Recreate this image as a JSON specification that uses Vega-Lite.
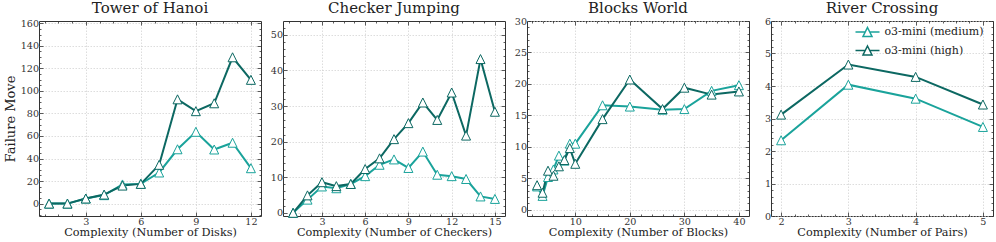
{
  "$schema": "https://vega.github.io/schema/vega-lite/v6.json",
  "padding": {"left": 3, "right": 2, "top": 0, "bottom": 0},
  "bounds": "flush",
  "spacing": 22,
  "datasets": {
    "hanoi": [
      {"model": "o3-mini (medium)", "n": 1, "v": 0}, {"model": "o3-mini (medium)", "n": 2, "v": 0},
      {"model": "o3-mini (medium)", "n": 3, "v": 4.5}, {"model": "o3-mini (medium)", "n": 4, "v": 7.5},
      {"model": "o3-mini (medium)", "n": 5, "v": 17}, {"model": "o3-mini (medium)", "n": 6, "v": 17.5},
      {"model": "o3-mini (medium)", "n": 7, "v": 27.6}, {"model": "o3-mini (medium)", "n": 8, "v": 48.2},
      {"model": "o3-mini (medium)", "n": 9, "v": 63.7}, {"model": "o3-mini (medium)", "n": 10, "v": 48},
      {"model": "o3-mini (medium)", "n": 11, "v": 54}, {"model": "o3-mini (medium)", "n": 12, "v": 31.4},
      {"model": "o3-mini (high)", "n": 1, "v": 0}, {"model": "o3-mini (high)", "n": 2, "v": 0},
      {"model": "o3-mini (high)", "n": 3, "v": 4.5}, {"model": "o3-mini (high)", "n": 4, "v": 8},
      {"model": "o3-mini (high)", "n": 5, "v": 16}, {"model": "o3-mini (high)", "n": 6, "v": 17.5},
      {"model": "o3-mini (high)", "n": 7, "v": 34.4}, {"model": "o3-mini (high)", "n": 8, "v": 92.5},
      {"model": "o3-mini (high)", "n": 9, "v": 82}, {"model": "o3-mini (high)", "n": 10, "v": 89},
      {"model": "o3-mini (high)", "n": 11, "v": 129.8}, {"model": "o3-mini (high)", "n": 12, "v": 109.8}
    ],
    "checker": [
      {"model": "o3-mini (medium)", "n": 1, "v": 0}, {"model": "o3-mini (medium)", "n": 2, "v": 3.7},
      {"model": "o3-mini (medium)", "n": 3, "v": 7.4}, {"model": "o3-mini (medium)", "n": 4, "v": 6.9},
      {"model": "o3-mini (medium)", "n": 5, "v": 8.1}, {"model": "o3-mini (medium)", "n": 6, "v": 10.3},
      {"model": "o3-mini (medium)", "n": 7, "v": 13.5}, {"model": "o3-mini (medium)", "n": 8, "v": 15.0},
      {"model": "o3-mini (medium)", "n": 9, "v": 12.6}, {"model": "o3-mini (medium)", "n": 10, "v": 17.2},
      {"model": "o3-mini (medium)", "n": 11, "v": 10.7}, {"model": "o3-mini (medium)", "n": 12, "v": 10.3},
      {"model": "o3-mini (medium)", "n": 13, "v": 9.5}, {"model": "o3-mini (medium)", "n": 14, "v": 4.6},
      {"model": "o3-mini (medium)", "n": 15, "v": 3.9},
      {"model": "o3-mini (high)", "n": 1, "v": 0}, {"model": "o3-mini (high)", "n": 2, "v": 4.9},
      {"model": "o3-mini (high)", "n": 3, "v": 8.6}, {"model": "o3-mini (high)", "n": 4, "v": 7.5},
      {"model": "o3-mini (high)", "n": 5, "v": 8.1}, {"model": "o3-mini (high)", "n": 6, "v": 12.3},
      {"model": "o3-mini (high)", "n": 7, "v": 15.3}, {"model": "o3-mini (high)", "n": 8, "v": 20.7},
      {"model": "o3-mini (high)", "n": 9, "v": 25.2}, {"model": "o3-mini (high)", "n": 10, "v": 31.0},
      {"model": "o3-mini (high)", "n": 11, "v": 26.1}, {"model": "o3-mini (high)", "n": 12, "v": 33.8},
      {"model": "o3-mini (high)", "n": 13, "v": 21.7}, {"model": "o3-mini (high)", "n": 14, "v": 43.2},
      {"model": "o3-mini (high)", "n": 15, "v": 28.4}
    ],
    "blocks": [
      {"model": "o3-mini (medium)", "n": 3, "v": 3.7}, {"model": "o3-mini (medium)", "n": 4, "v": 2.2},
      {"model": "o3-mini (medium)", "n": 5, "v": 5.2}, {"model": "o3-mini (medium)", "n": 6, "v": 6.4},
      {"model": "o3-mini (medium)", "n": 7, "v": 8.6}, {"model": "o3-mini (medium)", "n": 8, "v": 7.8},
      {"model": "o3-mini (medium)", "n": 9, "v": 10.5}, {"model": "o3-mini (medium)", "n": 10, "v": 10.5},
      {"model": "o3-mini (medium)", "n": 15, "v": 16.6}, {"model": "o3-mini (medium)", "n": 20, "v": 16.4},
      {"model": "o3-mini (medium)", "n": 26, "v": 15.9}, {"model": "o3-mini (medium)", "n": 30, "v": 16.0},
      {"model": "o3-mini (medium)", "n": 35, "v": 18.9}, {"model": "o3-mini (medium)", "n": 40, "v": 19.8},
      {"model": "o3-mini (high)", "n": 3, "v": 3.9}, {"model": "o3-mini (high)", "n": 4, "v": 2.7},
      {"model": "o3-mini (high)", "n": 5, "v": 6.2}, {"model": "o3-mini (high)", "n": 6, "v": 5.4},
      {"model": "o3-mini (high)", "n": 7, "v": 6.9}, {"model": "o3-mini (high)", "n": 8, "v": 7.9},
      {"model": "o3-mini (high)", "n": 9, "v": 9.8}, {"model": "o3-mini (high)", "n": 10, "v": 7.3},
      {"model": "o3-mini (high)", "n": 15, "v": 14.4}, {"model": "o3-mini (high)", "n": 20, "v": 20.7},
      {"model": "o3-mini (high)", "n": 26, "v": 16.0}, {"model": "o3-mini (high)", "n": 30, "v": 19.4},
      {"model": "o3-mini (high)", "n": 35, "v": 18.3}, {"model": "o3-mini (high)", "n": 40, "v": 18.8}
    ],
    "river": [
      {"model": "o3-mini (medium)", "n": 2, "v": 2.33}, {"model": "o3-mini (medium)", "n": 3, "v": 4.04},
      {"model": "o3-mini (medium)", "n": 4, "v": 3.61}, {"model": "o3-mini (medium)", "n": 5, "v": 2.74},
      {"model": "o3-mini (high)", "n": 2, "v": 3.12}, {"model": "o3-mini (high)", "n": 3, "v": 4.66},
      {"model": "o3-mini (high)", "n": 4, "v": 4.28}, {"model": "o3-mini (high)", "n": 5, "v": 3.43}
    ]
  },
  "hconcat": [
    {
      "title": {"text": "Tower of Hanoi", "offset": 2.5},
      "width": 222, "height": 195,
      "data": {"name": "hanoi"},
      "resolve": {"axis": {"x": "independent", "y": "independent"}},
      "layer": [
        {
          "mark": {"type": "line", "strokeWidth": 2},
          "encoding": {
            "x": {"field": "n", "type": "quantitative", "scale": {"domain": [0.45, 12.55], "nice": false, "zero": false},
              "axis": {"title": "Complexity (Number of Disks)", "values": [0.75,1.5,2.25,3,3.75,4.5,5.25,6,6.75,7.5,8.25,9,9.75,10.5,11.25,12],
                "labelExpr": "datum.value % 3 === 0 ? datum.label : ''",
                "tickSize": {"condition": {"test": "datum.value % 3 === 0", "value": -4}, "value": -2},
                "gridOpacity": {"condition": {"test": "datum.value % 3 === 0", "value": 1}, "value": 0}}},
            "y": {"field": "v", "type": "quantitative", "scale": {"domain": [-11, 162], "nice": false, "zero": false},
              "axis": {"title": "Failure Move", "titleFontSize": 13, "titlePadding": 3, "values": [-10,-5,0,5,10,15,20,25,30,35,40,45,50,55,60,65,70,75,80,85,90,95,100,105,110,115,120,125,130,135,140,145,150,155,160],
                "labelExpr": "datum.value % 20 === 0 ? datum.label : ''",
                "tickSize": {"condition": {"test": "datum.value % 20 === 0", "value": -4}, "value": -2},
                "gridOpacity": {"condition": {"test": "datum.value % 20 === 0", "value": 1}, "value": 0}}},
            "color": {"field": "model", "type": "nominal", "scale": {"domain": ["o3-mini (medium)", "o3-mini (high)"], "range": ["#1aa39b", "#0c6862"]}, "legend": null}
          }
        },
        {
          "mark": {"type": "point", "shape": "M0,-1L1,1L-1,1Z", "size": 81, "filled": true, "fill": "white", "strokeWidth": 1, "opacity": 1},
          "encoding": {
            "x": {"field": "n", "type": "quantitative", "axis": null},
            "y": {"field": "v", "type": "quantitative", "axis": null},
            "stroke": {"field": "model", "type": "nominal", "scale": {"domain": ["o3-mini (medium)", "o3-mini (high)"], "range": ["#1aa39b", "#0c6862"]}, "legend": null}
          }
        },
        {
          "mark": {"type": "point", "opacity": 0},
          "encoding": {
            "x": {"field": "n", "type": "quantitative",
              "axis": {"orient": "top", "title": null, "labels": false, "grid": false, "values": [0.75,1.5,2.25,3,3.75,4.5,5.25,6,6.75,7.5,8.25,9,9.75,10.5,11.25,12],
                "tickSize": {"condition": {"test": "datum.value % 3 === 0", "value": -4}, "value": -2}}},
            "y": {"field": "v", "type": "quantitative",
              "axis": {"orient": "right", "title": null, "labels": false, "grid": false, "values": [-10,-5,0,5,10,15,20,25,30,35,40,45,50,55,60,65,70,75,80,85,90,95,100,105,110,115,120,125,130,135,140,145,150,155,160],
                "tickSize": {"condition": {"test": "datum.value % 20 === 0", "value": -4}, "value": -2}}}
          }
        }
      ]
    },
    {
      "title": {"text": "Checker Jumping", "offset": 5},
      "width": 222, "height": 195,
      "data": {"name": "checker"},
      "resolve": {"axis": {"x": "independent", "y": "independent"}},
      "layer": [
        {
          "mark": {"type": "line", "strokeWidth": 2},
          "encoding": {
            "x": {"field": "n", "type": "quantitative", "scale": {"domain": [0.3, 15.7], "nice": false, "zero": false},
              "axis": {"title": "Complexity (Number of Checkers)", "values": [0.75,1.5,2.25,3,3.75,4.5,5.25,6,6.75,7.5,8.25,9,9.75,10.5,11.25,12,12.75,13.5,14.25,15],
                "labelExpr": "datum.value % 3 === 0 ? datum.label : ''",
                "tickSize": {"condition": {"test": "datum.value % 3 === 0", "value": -4}, "value": -2},
                "gridOpacity": {"condition": {"test": "datum.value % 3 === 0", "value": 1}, "value": 0}}},
            "y": {"field": "v", "type": "quantitative", "scale": {"domain": [-0.9, 53.9], "nice": false, "zero": false},
              "axis": {"title": null, "values": [0,2,4,6,8,10,12,14,16,18,20,22,24,26,28,30,32,34,36,38,40,42,44,46,48,50,52],
                "labelExpr": "datum.value % 10 === 0 ? datum.label : ''",
                "tickSize": {"condition": {"test": "datum.value % 10 === 0", "value": -4}, "value": -2},
                "gridOpacity": {"condition": {"test": "datum.value % 10 === 0", "value": 1}, "value": 0}}},
            "color": {"field": "model", "type": "nominal", "scale": {"domain": ["o3-mini (medium)", "o3-mini (high)"], "range": ["#1aa39b", "#0c6862"]}, "legend": null}
          }
        },
        {
          "mark": {"type": "point", "shape": "M0,-1L1,1L-1,1Z", "size": 81, "filled": true, "fill": "white", "strokeWidth": 1, "opacity": 1},
          "encoding": {
            "x": {"field": "n", "type": "quantitative", "axis": null},
            "y": {"field": "v", "type": "quantitative", "axis": null},
            "stroke": {"field": "model", "type": "nominal", "scale": {"domain": ["o3-mini (medium)", "o3-mini (high)"], "range": ["#1aa39b", "#0c6862"]}, "legend": null}
          }
        },
        {
          "mark": {"type": "point", "opacity": 0},
          "encoding": {
            "x": {"field": "n", "type": "quantitative",
              "axis": {"orient": "top", "title": null, "labels": false, "grid": false, "values": [0.75,1.5,2.25,3,3.75,4.5,5.25,6,6.75,7.5,8.25,9,9.75,10.5,11.25,12,12.75,13.5,14.25,15],
                "tickSize": {"condition": {"test": "datum.value % 3 === 0", "value": -4}, "value": -2}}},
            "y": {"field": "v", "type": "quantitative",
              "axis": {"orient": "right", "title": null, "labels": false, "grid": false, "values": [0,2,4,6,8,10,12,14,16,18,20,22,24,26,28,30,32,34,36,38,40,42,44,46,48,50,52],
                "tickSize": {"condition": {"test": "datum.value % 10 === 0", "value": -4}, "value": -2}}}
          }
        }
      ]
    },
    {
      "title": {"text": "Blocks World", "offset": 0},
      "width": 222, "height": 195,
      "data": {"name": "blocks"},
      "resolve": {"axis": {"x": "independent", "y": "independent"}},
      "layer": [
        {
          "mark": {"type": "line", "strokeWidth": 2},
          "encoding": {
            "x": {"field": "n", "type": "quantitative", "scale": {"domain": [1.15, 41.85], "nice": false, "zero": false},
              "axis": {"title": "Complexity (Number of Blocks)", "values": [2,4,6,8,10,12,14,16,18,20,22,24,26,28,30,32,34,36,38,40],
                "labelExpr": "datum.value % 10 === 0 ? datum.label : ''",
                "tickSize": {"condition": {"test": "datum.value % 10 === 0", "value": -4}, "value": -2},
                "gridOpacity": {"condition": {"test": "datum.value % 10 === 0", "value": 1}, "value": 0}}},
            "y": {"field": "v", "type": "quantitative", "scale": {"domain": [-1, 30], "nice": false, "zero": false},
              "axis": {"title": null, "values": [0,1,2,3,4,5,6,7,8,9,10,11,12,13,14,15,16,17,18,19,20,21,22,23,24,25,26,27,28,29,30],
                "labelExpr": "datum.value % 5 === 0 ? datum.label : ''",
                "tickSize": {"condition": {"test": "datum.value % 5 === 0", "value": -4}, "value": -2},
                "gridOpacity": {"condition": {"test": "datum.value % 5 === 0", "value": 1}, "value": 0}}},
            "color": {"field": "model", "type": "nominal", "scale": {"domain": ["o3-mini (medium)", "o3-mini (high)"], "range": ["#1aa39b", "#0c6862"]}, "legend": null}
          }
        },
        {
          "mark": {"type": "point", "shape": "M0,-1L1,1L-1,1Z", "size": 81, "filled": true, "fill": "white", "strokeWidth": 1, "opacity": 1},
          "encoding": {
            "x": {"field": "n", "type": "quantitative", "axis": null},
            "y": {"field": "v", "type": "quantitative", "axis": null},
            "stroke": {"field": "model", "type": "nominal", "scale": {"domain": ["o3-mini (medium)", "o3-mini (high)"], "range": ["#1aa39b", "#0c6862"]}, "legend": null}
          }
        },
        {
          "mark": {"type": "point", "opacity": 0},
          "encoding": {
            "x": {"field": "n", "type": "quantitative",
              "axis": {"orient": "top", "title": null, "labels": false, "grid": false, "values": [2,4,6,8,10,12,14,16,18,20,22,24,26,28,30,32,34,36,38,40],
                "tickSize": {"condition": {"test": "datum.value % 10 === 0", "value": -4}, "value": -2}}},
            "y": {"field": "v", "type": "quantitative",
              "axis": {"orient": "right", "title": null, "labels": false, "grid": false, "values": [0,1,2,3,4,5,6,7,8,9,10,11,12,13,14,15,16,17,18,19,20,21,22,23,24,25,26,27,28,29,30],
                "tickSize": {"condition": {"test": "datum.value % 5 === 0", "value": -4}, "value": -2}}}
          }
        }
      ]
    },
    {
      "title": {"text": "River Crossing", "offset": 0},
      "width": 222, "height": 195,
      "data": {"name": "river"},
      "resolve": {"axis": {"x": "independent", "y": "independent"}},
      "layer": [
        {
          "mark": {"type": "line", "strokeWidth": 2},
          "encoding": {
            "x": {"field": "n", "type": "quantitative", "scale": {"domain": [1.85, 5.15], "nice": false, "zero": false},
              "axis": {"title": "Complexity (Number of Pairs)", "format": ".0f", "values": [2,2.2,2.4,2.6,2.8,3,3.2,3.4,3.6,3.8,4,4.2,4.4,4.6,4.8,5],
                "labelExpr": "abs(datum.value - round(datum.value)) < 0.001 ? datum.label : ''",
                "tickSize": {"condition": {"test": "abs(datum.value - round(datum.value)) < 0.001", "value": -4}, "value": -2},
                "gridOpacity": {"condition": {"test": "abs(datum.value - round(datum.value)) < 0.001", "value": 1}, "value": 0}}},
            "y": {"field": "v", "type": "quantitative", "scale": {"domain": [0, 6], "nice": false, "zero": false},
              "axis": {"title": null, "format": ".0f", "values": [0,0.2,0.4,0.6,0.8,1,1.2,1.4,1.6,1.8,2,2.2,2.4,2.6,2.8,3,3.2,3.4,3.6,3.8,4,4.2,4.4,4.6,4.8,5,5.2,5.4,5.6,5.8,6],
                "labelExpr": "abs(datum.value - round(datum.value)) < 0.001 ? datum.label : ''",
                "tickSize": {"condition": {"test": "abs(datum.value - round(datum.value)) < 0.001", "value": -4}, "value": -2},
                "gridOpacity": {"condition": {"test": "abs(datum.value - round(datum.value)) < 0.001", "value": 1}, "value": 0}}},
            "color": {"field": "model", "type": "nominal", "scale": {"domain": ["o3-mini (medium)", "o3-mini (high)"], "range": ["#1aa39b", "#0c6862"]},
              "legend": {"orient": "none", "legendX": 89.5, "legendY": 4, "title": null, "padding": 0,
                "symbolType": "M-2,0H-0.375M0.375,0H2M0,-0.75L0.75,0.75L-0.75,0.75Z", "symbolSize": 144,
                "labelFont": "DejaVu Serif", "labelFontSize": 11, "labelColor": "#222", "labelOffset": 10, "rowPadding": 2.5,
                "encode": {"symbols": {"update": {"fill": {"value": "white"}, "strokeWidth": {"value": 1.5}, "opacity": {"value": 1}}}}}}
          }
        },
        {
          "mark": {"type": "point", "shape": "M0,-1L1,1L-1,1Z", "size": 81, "filled": true, "fill": "white", "strokeWidth": 1, "opacity": 1},
          "encoding": {
            "x": {"field": "n", "type": "quantitative", "axis": null},
            "y": {"field": "v", "type": "quantitative", "axis": null},
            "stroke": {"field": "model", "type": "nominal", "scale": {"domain": ["o3-mini (medium)", "o3-mini (high)"], "range": ["#1aa39b", "#0c6862"]}, "legend": null}
          }
        },
        {
          "mark": {"type": "point", "opacity": 0},
          "encoding": {
            "x": {"field": "n", "type": "quantitative",
              "axis": {"orient": "top", "title": null, "labels": false, "grid": false, "values": [2,2.2,2.4,2.6,2.8,3,3.2,3.4,3.6,3.8,4,4.2,4.4,4.6,4.8,5],
                "tickSize": {"condition": {"test": "abs(datum.value - round(datum.value)) < 0.001", "value": -4}, "value": -2}}},
            "y": {"field": "v", "type": "quantitative",
              "axis": {"orient": "right", "title": null, "labels": false, "grid": false, "values": [0,0.2,0.4,0.6,0.8,1,1.2,1.4,1.6,1.8,2,2.2,2.4,2.6,2.8,3,3.2,3.4,3.6,3.8,4,4.2,4.4,4.6,4.8,5,5.2,5.4,5.6,5.8,6],
                "tickSize": {"condition": {"test": "abs(datum.value - round(datum.value)) < 0.001", "value": -4}, "value": -2}}}
          }
        }
      ]
    }
  ],
  "resolve": {"scale": {"color": "independent", "stroke": "independent"}, "legend": {"color": "independent", "stroke": "independent"}},
  "config": {
    "font": "DejaVu Serif",
    "view": {"stroke": "#333333", "strokeWidth": 1},
    "axis": {"domain": false, "labelFontSize": 9.6, "labelColor": "#333333", "titleFontSize": 11.25, "titleFontWeight": "normal", "titleColor": "#222222",
      "tickColor": "#333333", "tickWidth": 0.8, "gridColor": "#cfcfcf", "gridDash": [1.5, 1.5], "gridWidth": 0.7,
      "labelFlush": false, "labelOverlap": false, "labelPadding": 4.5, "titlePadding": -2},
    "title": {"fontSize": 15, "fontWeight": "normal", "font": "DejaVu Serif", "color": "#222222", "baseline": "alphabetic"}
  }
}
